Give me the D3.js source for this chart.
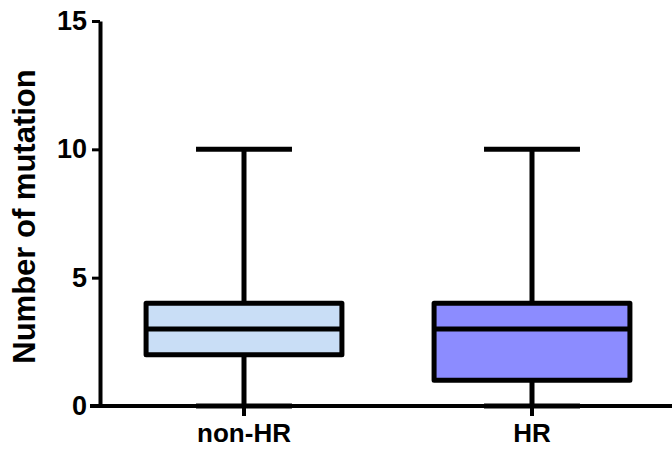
<!DOCTYPE html>
<html>
<head>
<meta charset="utf-8">
<script src="https://cdn.jsdelivr.net/npm/d3@7"></script>
<style>
  body { margin: 0; background: #fff; }
  text { font-family: Arial, "Liberation Sans", sans-serif; font-weight: bold; }
</style>
</head>
<body>
<div id="chart"></div>
<script>
const categories = ["non-HR", "HR"];
const minValues = [0, 0];
const q1Values = [2, 1];
const medianValues = [3, 3];
const q3Values = [4, 4];
const maxValues = [10, 10];
const fillColors = ["#c9def6", "#8c8cff"];
const yTicks = [0, 5, 10, 15];

const width = 672, height = 450;
const margin = { top: 21, right: 0, bottom: 44, left: 100 };

const svg = d3.select("#chart").append("svg")
    .attr("width", width)
    .attr("height", height);

const x = d3.scaleBand()
    .domain(categories)
    .range([margin.left, 676])
    .paddingInner(0.32)
    .paddingOuter(0.16);

const y = d3.scaleLinear()
    .domain([0, 15])
    .range([height - margin.bottom, margin.top]);

const stroke = 5;
const capW = x.bandwidth() * 0.49;

const boxes = categories.map((c, i) => ({
    cat: c, min: minValues[i], q1: q1Values[i], med: medianValues[i],
    q3: q3Values[i], max: maxValues[i], fill: fillColors[i]
}));

const g = svg.selectAll(".box").data(boxes).enter().append("g").attr("class", "box");

// whisker
g.append("line")
    .attr("x1", d => x(d.cat) + x.bandwidth() / 2)
    .attr("x2", d => x(d.cat) + x.bandwidth() / 2)
    .attr("y1", d => y(d.max))
    .attr("y2", d => y(d.min))
    .attr("stroke", "#000").attr("stroke-width", stroke);

// caps
g.append("line")
    .attr("x1", d => x(d.cat) + x.bandwidth() / 2 - capW / 2)
    .attr("x2", d => x(d.cat) + x.bandwidth() / 2 + capW / 2)
    .attr("y1", d => y(d.max)).attr("y2", d => y(d.max))
    .attr("stroke", "#000").attr("stroke-width", stroke);
g.append("line")
    .attr("x1", d => x(d.cat) + x.bandwidth() / 2 - capW / 2)
    .attr("x2", d => x(d.cat) + x.bandwidth() / 2 + capW / 2)
    .attr("y1", d => y(d.min)).attr("y2", d => y(d.min))
    .attr("stroke", "#000").attr("stroke-width", stroke);

// box
g.append("rect")
    .attr("x", d => x(d.cat))
    .attr("width", x.bandwidth())
    .attr("y", d => y(d.q3))
    .attr("height", d => y(d.q1) - y(d.q3))
    .attr("fill", d => d.fill)
    .attr("stroke", "#000").attr("stroke-width", stroke)
    .attr("stroke-linejoin", "round");

// median
g.append("line")
    .attr("x1", d => x(d.cat))
    .attr("x2", d => x(d.cat) + x.bandwidth())
    .attr("y1", d => y(d.med)).attr("y2", d => y(d.med))
    .attr("stroke", "#000").attr("stroke-width", stroke);

// y axis
const yAxis = svg.append("g")
    .attr("transform", `translate(${margin.left},0)`)
    .call(d3.axisLeft(y).tickValues(yTicks).tickSize(8).tickSizeOuter(0).tickPadding(5));
yAxis.select(".domain").attr("stroke-width", 4);
yAxis.selectAll(".tick line").attr("stroke-width", 3);
yAxis.selectAll(".tick text").attr("font-size", 27).attr("fill", "#000");

// x axis
const xAxis = svg.append("g")
    .attr("transform", `translate(0,${y(0)})`)
    .call(d3.axisBottom(x).tickSize(10).tickSizeOuter(0).tickPadding(8));
xAxis.select(".domain").attr("d", `M${margin.left - 10},0H${width}`).attr("stroke-width", 4);
xAxis.selectAll(".tick line").attr("stroke-width", 4);
xAxis.selectAll(".tick text").attr("font-size", 26).attr("fill", "#000");

// y title
svg.append("text")
    .attr("transform", `translate(35,${(y(0) + y(15)) / 2 + 3}) rotate(-90)`)
    .attr("text-anchor", "middle")
    .attr("font-size", 31)
    .text("Number of mutation");
</script>
</body>
</html>
